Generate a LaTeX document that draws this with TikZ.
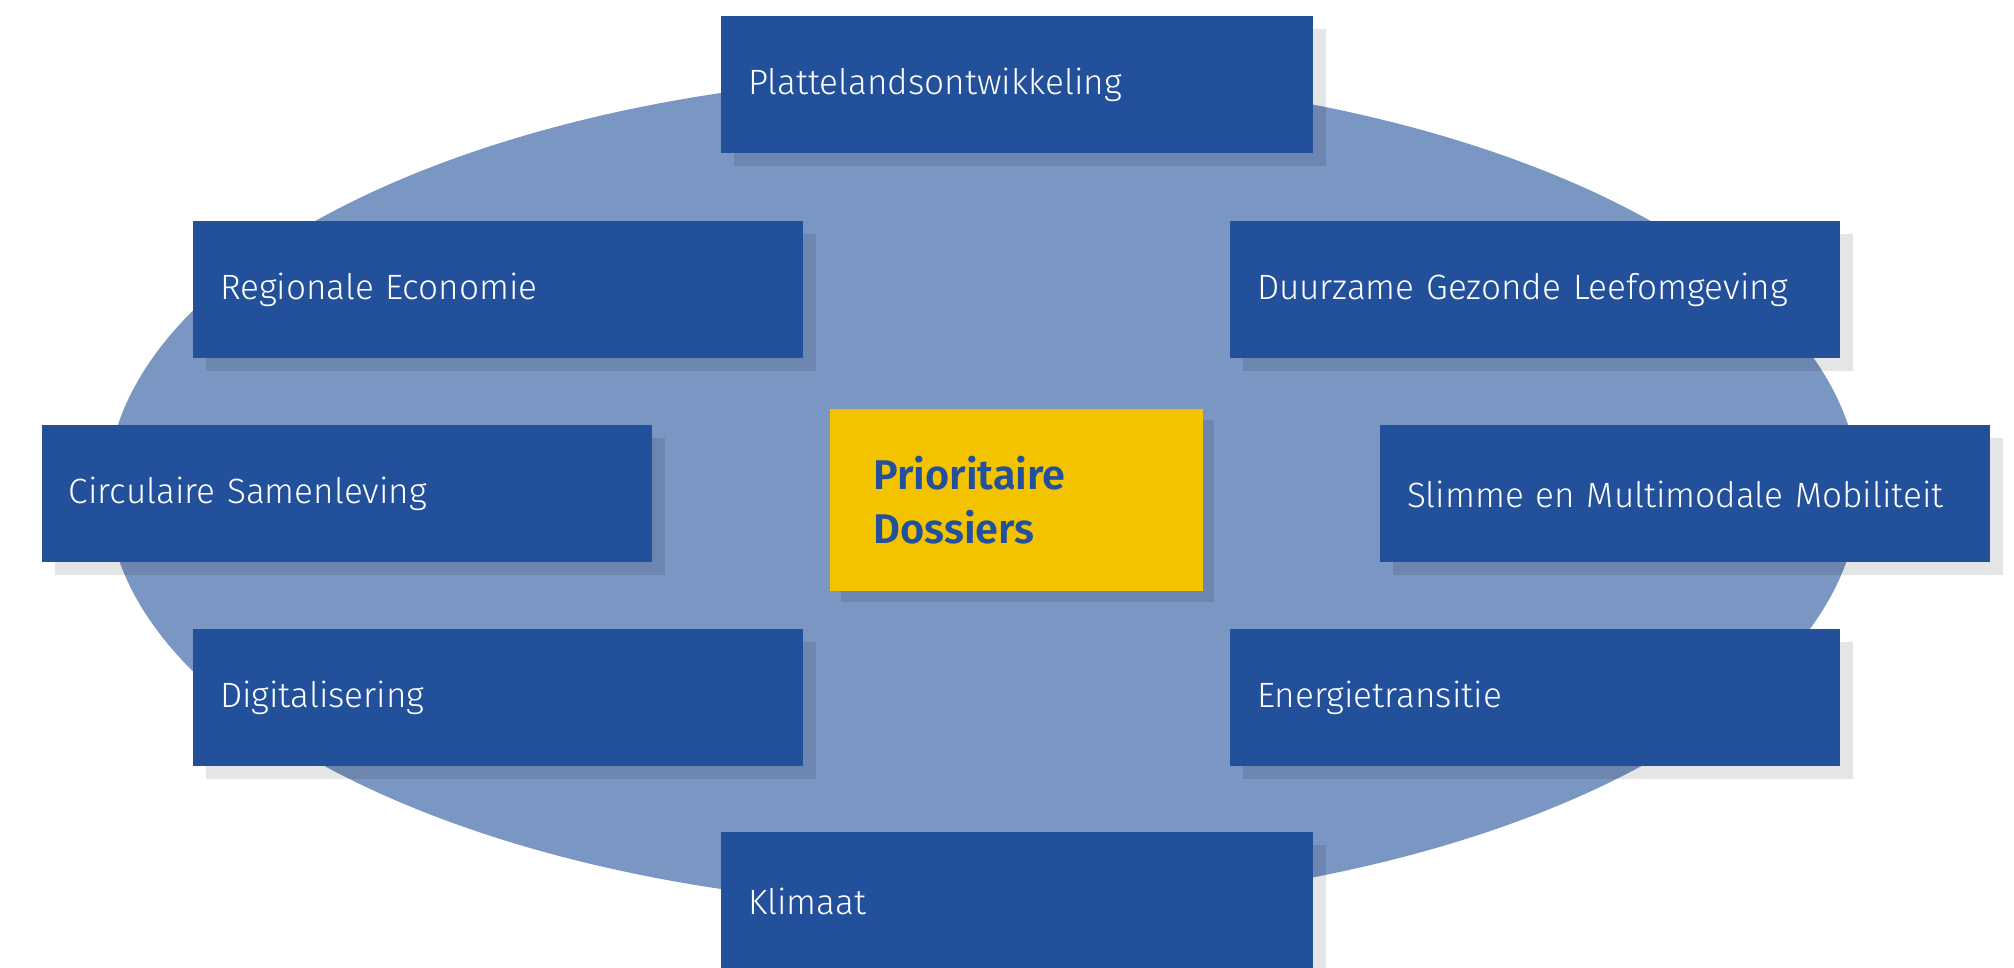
\documentclass[tikz,border=0pt]{standalone}
\usepackage{fontspec}
\setmainfont{Fira Sans}[UprightFont=* Light, BoldFont=* SemiBold]
\usetikzlibrary{shadows}

\definecolor{dossierBlue}{HTML}{23509B}
\definecolor{ovalBlue}{HTML}{7A96C3}
\definecolor{dossierYellow}{HTML}{F4C300}

\begin{document}
\begin{tikzpicture}
            [myBox/.style={rectangle,
                        fill=dossierBlue,
                        text=white,
                        align=left,
                        font=\fontsize{10}{12}\selectfont,
                        inner xsep=0.27cm,
                        text width=5.56cm,
                        minimum height=1.37cm,
                        drop shadow={shadow xshift=0.13cm, shadow yshift=-0.13cm, fill=black, opacity=0.1}},
             myCore/.style={rectangle,
                        fill=dossierYellow,
                        text=dossierBlue,
                        align=left,
                        font=\fontsize{11.8}{15.5}\selectfont\bfseries,
                        inner xsep=0.44cm,
                        text width=2.85cm,
                        minimum height=1.82cm,
                        drop shadow={shadow xshift=0.11cm, shadow yshift=-0.11cm, fill=black, opacity=0.1}}]

            \useasboundingbox (0,0) rectangle (20.14,9.68);

            \fill[ovalBlue] (9.83,4.77) ellipse [x radius=8.76, y radius=4.17];

            \node[myBox, text width=5.38cm] (plattelandsontwikkeling) at (10.17, 8.83) {Plattelandsontwikkeling};
            \node[myBox] (regionaleEconomie) at ( 4.98, 6.78) {Regionale Economie};
            \node[myBox] (duurzameLeefomgeving) at (15.35, 6.78) {Duurzame Gezonde Leefomgeving};
            \node[myBox] (circulaireSamenleving) at ( 3.47, 4.74) {Circulaire Samenleving};
            \node[myBox] (slimmeMobiliteit) at (16.85, 4.74) {Slimme en Multimodale Mobiliteit};
            \node[myBox] (digitalisering) at ( 4.98, 2.70) {Digitalisering};
            \node[myBox] (energietransitie) at (15.35, 2.70) {Energietransitie};
            \node[myBox, text width=5.38cm] (klimaat) at (10.17, 0.67) {Klimaat};

            \node[myCore] (prioritaireDossiers) at (10.16, 4.68) {Prioritaire\\Dossiers};
        \end{tikzpicture}
\end{document}
